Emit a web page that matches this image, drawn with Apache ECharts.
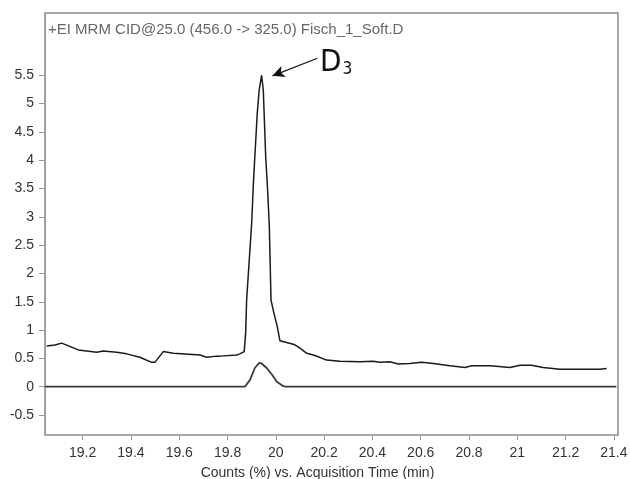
<!DOCTYPE html>
<html lang="en">
<head>
    <meta charset="UTF-8">
    <title>MRM chromatogram</title>
    <script src="https://cdn.jsdelivr.net/npm/echarts@6/dist/echarts.min.js"></script>
    <style>
        html, body { margin: 0; padding: 0; background: #fff; }
    </style>
</head>
<body>

<div id="main" style="width: 630px;height:479px;"></div>

<script type="text/javascript">
    // upper trace (total signal)
    var upperTime = [19.051, 19.085, 19.113, 19.134, 19.182, 19.258, 19.285, 19.341, 19.382, 19.437,
        19.486, 19.499, 19.534, 19.575, 19.672, 19.686, 19.713, 19.755, 19.769, 19.838,
        19.851, 19.869, 19.875, 19.879, 19.900, 19.907, 19.913, 19.923, 19.931, 19.941,
        19.948, 19.952, 19.958, 19.966, 19.973, 19.980, 19.992, 20.006, 20.017, 20.045,
        20.079, 20.100, 20.128, 20.162, 20.210, 20.265, 20.348, 20.403, 20.431, 20.472,
        20.507, 20.554, 20.604, 20.652, 20.721, 20.783, 20.811, 20.887, 20.970, 21.011,
        21.059, 21.107, 21.176, 21.259, 21.342, 21.370];
    var upperCounts = [0.72, 0.735, 0.77, 0.735, 0.65, 0.61, 0.63, 0.61, 0.58, 0.52,
        0.43, 0.43, 0.62, 0.59, 0.565, 0.56, 0.52, 0.54, 0.54, 0.56,
        0.58, 0.62, 0.95, 1.53, 2.89, 3.59, 4.06, 4.83, 5.24, 5.50,
        5.24, 4.77, 4.06, 3.47, 2.83, 1.53, 1.30, 1.06, 0.81, 0.78,
        0.74, 0.68, 0.59, 0.55, 0.47, 0.45, 0.44, 0.45, 0.43, 0.44,
        0.40, 0.41, 0.43, 0.41, 0.37, 0.34, 0.37, 0.37, 0.34, 0.38,
        0.38, 0.34, 0.31, 0.31, 0.31, 0.32];

    // lower trace (small peak on the zero line)
    var lowerTime = [19.044, 19.872, 19.893, 19.913, 19.931, 19.941, 19.962, 19.983, 20.003, 20.031, 20.040, 21.410];
    var lowerCounts = [0, 0, 0.12, 0.33, 0.42, 0.41, 0.33, 0.22, 0.09, 0.01, 0, 0];

    var xTicks = [19.2, 19.4, 19.6, 19.8, 20, 20.2, 20.4, 20.6, 20.8, 21, 21.2, 21.4];
    var yTicks = [-0.5, 0, 0.5, 1, 1.5, 2, 2.5, 3, 3.5, 4, 4.5, 5, 5.5];

    // peak label arrow: [time, counts] tail and tip
    var arrowTail = [20.172, 5.80];
    var arrowTip = [19.986, 5.49];

    function pairs(xs, ys) {
        var out = [];
        for (var i = 0; i < xs.length; i++) out.push([xs[i], ys[i]]);
        return out;
    }

    var myChart = echarts.init(document.getElementById('main'));

    myChart.setOption({
        animation: false,
        textStyle: { fontFamily: 'Liberation Sans, Arial, sans-serif' },
        grid: {
            left: 45,
            right: 12,
            top: 13,
            bottom: 44,
            containLabel: false,
            outerBoundsMode: 'none',
            show: true,
            borderColor: '#8a8a8a',
            borderWidth: 1.5
        },
        graphic: [{
            type: 'text',
            left: 48,
            top: 22,
            style: {
                text: '+EI MRM CID@25.0 (456.0 -> 325.0) Fisch_1_Soft.D',
                fill: '#666',
                font: '15px "Liberation Sans", Arial, sans-serif'
            }
        }, {
            type: 'text',
            left: 320,
            top: 47,
            style: {
                text: '{d|D}{s|3}',
                rich: {
                    d: { fontSize: 31, fontFamily: 'Liberation Sans Narrow, DejaVu Sans Condensed, sans-serif', fill: '#111', verticalAlign: 'bottom' },
                    s: { fontSize: 17, fontFamily: 'Liberation Sans Narrow, DejaVu Sans Condensed, sans-serif', fill: '#111', padding: [10, 0, 0, 1], verticalAlign: 'bottom' }
                }
            }
        }],
        xAxis: {
            type: 'value',
            min: 19.044,
            max: 21.417,
            name: 'Counts (%) vs. Acquisition Time (min)',
            nameLocation: 'middle',
            nameGap: 31,
            nameTextStyle: { color: '#333', fontSize: 14, padding: [0, 28, 0, 0] },
            axisLine: { show: true, onZero: false, lineStyle: { color: '#aaa', width: 1 } },
            axisTick: { show: true, length: 5, customValues: xTicks, lineStyle: { color: '#999' } },
            axisLabel: { customValues: xTicks, color: '#333', fontSize: 14, margin: 11 },
            splitLine: { show: false }
        },
        yAxis: {
            type: 'value',
            min: -0.853,
            max: 6.6,
            axisLine: { show: true, onZero: false, lineStyle: { color: '#999', width: 1 } },
            axisTick: { show: true, length: 6, customValues: yTicks, lineStyle: { color: '#999' } },
            axisLabel: { customValues: yTicks, color: '#333', fontSize: 14, margin: 11 },
            splitLine: { show: false }
        },
        series: [{
            name: 'zero',
            type: 'line',
            data: pairs(lowerTime, lowerCounts),
            symbol: 'none',
            lineStyle: { color: '#3a3a3a', width: 1.8 },
            z: 2
        }, {
            name: 'signal',
            type: 'line',
            data: pairs(upperTime, upperCounts),
            symbol: 'none',
            lineStyle: { color: '#1a1a1a', width: 1.5 },
            z: 3,
            markLine: {
                silent: true,
                symbol: ['none', 'arrow'],
                symbolSize: [9, 12],
                label: { show: false },
                lineStyle: { color: '#111', width: 1.2, type: 'solid' },
                data: [[
                    { coord: arrowTail },
                    { coord: arrowTip }
                ]]
            }
        }]
    });
</script>

</body>
</html>
